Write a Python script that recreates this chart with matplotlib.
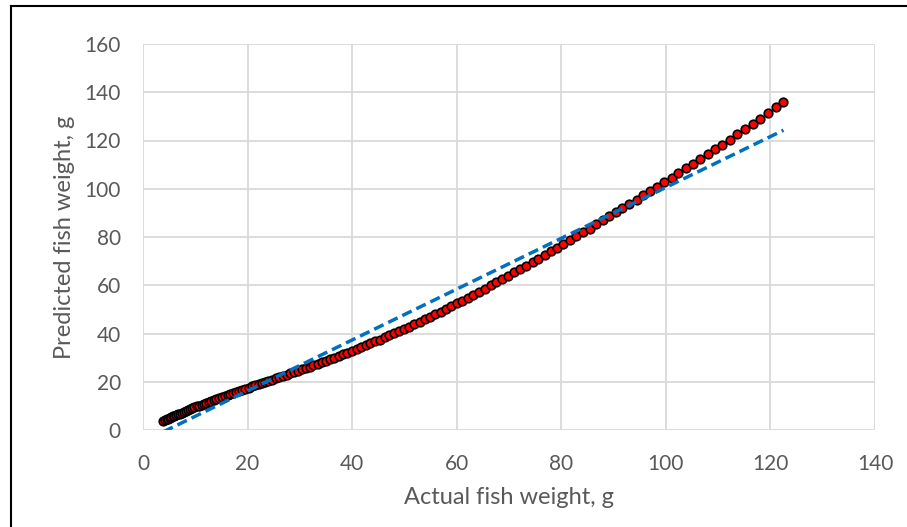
import numpy as np
import matplotlib
matplotlib.use("Agg")
import matplotlib.pyplot as plt
from matplotlib.lines import Line2D

plt.rcParams['font.family'] = ['Lato', 'DejaVu Sans']

# 실제 무게 (g)
actual_weight = [
    3.9, 4.2, 4.5, 4.8, 5.1, 5.4, 5.7, 6.0, 6.4, 6.7,
    7.1, 7.5, 7.8, 8.2, 8.6, 9.0, 9.4, 9.8, 10.3, 10.7,
    11.2, 11.6, 12.1, 12.6, 13.0, 13.5, 14.0, 14.6, 15.1, 15.6,
    16.2, 16.7, 17.3, 17.8, 18.4, 19.0, 19.6, 20.2, 20.8, 21.4,
    22.1, 22.7, 23.4, 24.0, 24.7, 25.4, 26.0, 26.7, 27.5, 28.2,
    28.9, 29.6, 30.4, 31.1, 31.9, 32.6, 33.4, 34.2, 35.0, 35.8,
    36.6, 37.5, 38.3, 39.1, 40.0, 40.9, 41.7, 42.6, 43.5, 44.4,
    45.3, 46.2, 47.1, 48.1, 49.0, 50.0, 50.9, 51.9, 52.9, 53.9,
    54.9, 55.9, 56.9, 57.9, 59.0, 60.0, 61.1, 62.1, 63.2, 64.3,
    65.4, 66.5, 67.6, 68.7, 69.9, 71.0, 72.1, 73.3, 74.5, 75.6,
    76.8, 78.0, 79.2, 80.4, 81.7, 82.9, 84.1, 85.4, 86.6, 87.9,
    89.2, 90.5, 91.7, 93.0, 94.4, 95.7, 97.0, 98.4, 99.7, 101.1,
    102.4, 103.8, 105.2, 106.6, 108.0, 109.4, 110.8, 112.3, 113.7, 115.2,
    116.6, 118.1, 119.6, 121.0, 122.5,
]

# 예측 무게 (g)
predicted_weight = [
    3.9, 4.2, 4.5, 4.7, 5.0, 5.3, 5.6, 5.9, 6.2, 6.5,
    6.8, 7.2, 7.5, 7.9, 8.3, 8.6, 9.0, 9.4, 9.8, 10.1,
    10.5, 10.9, 11.3, 11.7, 12.1, 12.5, 12.9, 13.3, 13.7, 14.1,
    14.6, 15.0, 15.4, 15.8, 16.3, 16.7, 17.2, 17.6, 18.1, 18.5,
    19.0, 19.5, 19.9, 20.4, 20.9, 21.4, 21.9, 22.4, 23.0, 23.5,
    24.0, 24.6, 25.1, 25.7, 26.3, 26.9, 27.5, 28.1, 28.7, 29.4,
    30.0, 30.7, 31.4, 32.1, 32.8, 33.6, 34.3, 35.1, 35.9, 36.7,
    37.5, 38.4, 39.2, 40.1, 41.0, 42.0, 42.9, 43.9, 44.9, 45.9,
    46.9, 48.0, 49.1, 50.2, 51.3, 52.5, 53.6, 54.8, 56.1, 57.3,
    58.6, 59.9, 61.2, 62.5, 63.9, 65.3, 66.7, 68.1, 69.6, 71.0,
    72.5, 74.0, 75.6, 77.1, 78.7, 80.3, 81.9, 83.5, 85.2, 86.9,
    88.6, 90.3, 92.0, 93.7, 95.5, 97.3, 99.1, 100.9, 102.7, 104.6,
    106.5, 108.4, 110.3, 112.3, 114.2, 116.3, 118.3, 120.4, 122.5, 124.6,
    126.8, 129.1, 131.4, 133.7, 136.1,
]

# 선형 추세선
trend_slope = 1.054
trend_intercept = -4.85

x_ticks = list(range(0, 141, 20))
y_ticks = list(range(0, 161, 20))

grey = "#595959"

fig = plt.figure(figsize=(9.07, 5.27), dpi=100)
ax = fig.add_axes([143 / 907, 1 - 430 / 527, 732 / 907, 386 / 527])

ax.scatter(actual_weight, predicted_weight, s=38, color="#ff0000",
           edgecolor="black", linewidth=1.2, zorder=3)

trend_x = np.array([actual_weight[0], actual_weight[-1]])
ax.plot(trend_x, trend_slope * trend_x + trend_intercept,
        color="#0070c0", lw=2.5, dashes=(3.0, 1.5), zorder=4)

ax.set_xlim(0, 140)
ax.set_ylim(0, 160)
ax.set_xticks(x_ticks)
ax.set_yticks(y_ticks)
ax.grid(True, color="#d9d9d9", lw=1.3)
ax.set_axisbelow(True)
for s in ax.spines.values():
    s.set_visible(False)

ax.tick_params(axis="both", length=0, labelsize=15, labelcolor=grey)
ax.tick_params(axis="x", pad=17)
ax.tick_params(axis="y", pad=16)
ax.set_xlabel("Actual fish weight, g", fontsize=17, color=grey, labelpad=10)
ax.set_ylabel("Predicted fish weight, g", fontsize=17, color=grey, labelpad=7)

# 차트 테두리
fig.add_artist(Line2D([11 / 907, 11 / 907], [0, 1 - 6 / 527], color="black", lw=1.5))
fig.add_artist(Line2D([11 / 907, 1], [1 - 6 / 527, 1 - 6 / 527], color="black", lw=1.5))

fig.savefig("out.png")
